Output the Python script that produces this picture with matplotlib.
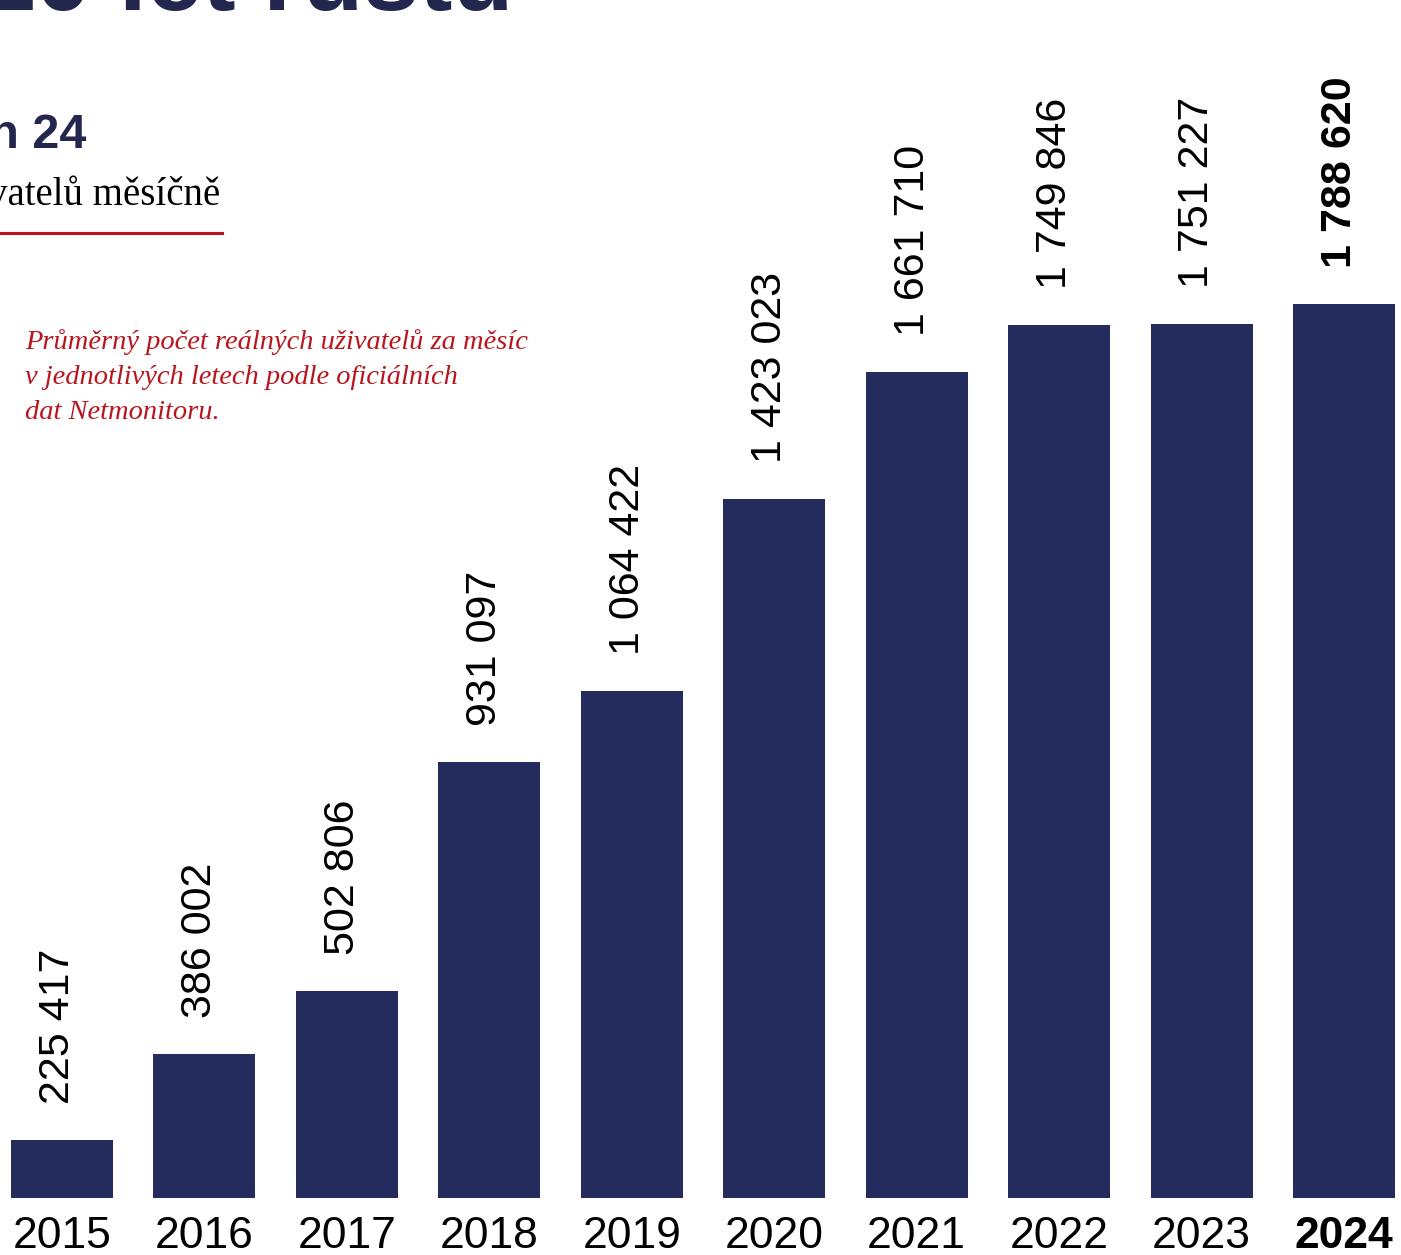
import matplotlib
matplotlib.use("Agg")
import matplotlib.pyplot as plt
import numpy as np

# --- data read from the infographic ---
years = ["2015", "2016", "2017", "2018", "2019", "2020", "2021", "2022", "2023", "2024"]
users = [225417, 386002, 502806, 931097, 1064422, 1423023, 1661710, 1749846, 1751227, 1788620]

NAVY = "#242c5e"
TITLE_NAVY = "#23264d"
RED = "#b8161f"

W, H = 1401, 1255
fig = plt.figure(figsize=(W / 100, H / 100), dpi=100)
fig.patch.set_facecolor("white")


def fx(px):
    return px / W


def fy(py):
    return 1 - py / H


# axes spans the whole width, bottom edge sits on the bar baseline
ax = fig.add_axes([0, fy(1198), 1, fy(0) - fy(1198)])
x = np.arange(len(years))
ax.bar(x, users, width=0.716, color=NAVY, zorder=2)
ax.set_xlim(-0.435, 9.40)
ax.set_ylim(116600, 2357000)

for i, v in enumerate(users):
    last = i == len(users) - 1
    ax.annotate(f"{v:,}".replace(",", " "), xy=(i, v), xytext=(-3, 26),
                textcoords="offset points", rotation=90, ha="center", va="bottom",
                fontsize=31, family="Liberation Sans",
                fontweight="bold" if last else "normal", color="black")

ax.set_xticks(x)
ax.set_xticklabels(years, fontsize=32, family="Liberation Sans", color="black")
ax.tick_params(axis="x", length=0, pad=13)
ax.get_xticklabels()[-1].set_fontweight("bold")
ax.set_yticks([])
for s in ax.spines.values():
    s.set_visible(False)

# --- header fragments (the reference is cropped through them) ---
fig.text(fx(514), fy(10), "10 let růstu", ha="right", va="baseline",
         fontsize=72, fontweight="bold", family="Liberation Sans", color=TITLE_NAVY)
fig.text(fx(86), fy(148), "2015 až červen 24", ha="right", va="baseline",
         fontsize=35, fontweight="bold", family="Liberation Sans", color=TITLE_NAVY)
fig.text(fx(220), fy(205), "1,8 milionu uživatelů měsíčně", ha="right", va="baseline",
         fontsize=28, family="Liberation Serif", color="black")
fig.add_artist(plt.Line2D([0, fx(222)], [fy(233), fy(233)], color=RED, lw=2.2))

note = ("Průměrný počet reálných uživatelů za měsíc\n"
        "v jednotlivých letech podle oficiálních\n"
        "dat Netmonitoru.")
fig.text(fx(25), fy(329), note, ha="left", va="top", fontsize=20.5,
         style="italic", family="Liberation Serif", color=RED, linespacing=1.53)

fig.savefig("out.png", dpi=100, facecolor="white")
